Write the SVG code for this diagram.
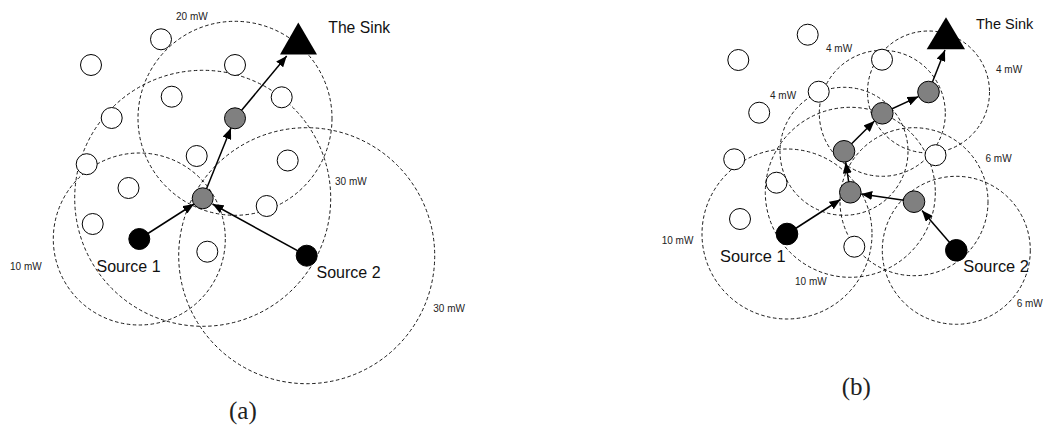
<svg xmlns="http://www.w3.org/2000/svg" width="1043" height="430" viewBox="0 0 1043 430">
<defs>
<marker id="arr" viewBox="0 0 11 9" refX="11" refY="4.5" markerWidth="11" markerHeight="9" markerUnits="userSpaceOnUse" orient="auto">
<path d="M0,0 L11,4.5 L0,9 z" fill="#000"/>
</marker>
</defs>
<style>
.range{fill:none;stroke:#000;stroke-width:0.9;stroke-dasharray:3.5 2.5}
.open{fill:#fff;stroke:#000;stroke-width:1}
.relay{fill:#808080;stroke:#000;stroke-width:1}
.src{fill:#000;stroke:#000;stroke-width:1}
.sink{fill:#000}
.conn{stroke:#000;stroke-width:1.5;fill:none;marker-end:url(#arr)}
.big{font-family:"Liberation Sans",Arial,sans-serif;fill:#111}
.small{font-family:"Liberation Sans",Arial,sans-serif;font-size:10px;fill:#222}
.cap{font-family:"Liberation Serif","Times New Roman",serif;font-size:25px;fill:#222}
</style>
<rect width="1043" height="430" fill="#fff"/>

<!-- Panel (a) ranges -->
<g id="ranges-a">
<circle class="range" cx="139.3" cy="239" r="86"/>
<circle class="range" cx="235" cy="118.3" r="97"/>
<circle class="range" cx="202.7" cy="198.3" r="128"/>
<circle class="range" cx="306.7" cy="255.7" r="128"/>
</g>
<!-- Panel (b) ranges -->
<g id="ranges-b">
<circle class="range" cx="787" cy="234" r="85"/>
<circle class="range" cx="850.3" cy="192.3" r="85"/>
<circle class="range" cx="914" cy="201.7" r="74"/>
<circle class="range" cx="956.3" cy="250.3" r="74"/>
<circle class="range" cx="844" cy="151.3" r="64"/>
<circle class="range" cx="882.3" cy="113.3" r="63"/>
<circle class="range" cx="928.5" cy="92" r="61"/>
</g>

<g id="connectors">
<line class="conn" x1="139.3" y1="239" x2="194" y2="204"/>
<line class="conn" x1="306.7" y1="255.7" x2="212.5" y2="204"/>
<line class="conn" x1="202.7" y1="198.3" x2="231" y2="128"/>
<line class="conn" x1="235" y1="118.3" x2="286.7" y2="56"/>
<line class="conn" x1="787" y1="234" x2="840.5" y2="199.5"/>
<line class="conn" x1="956.3" y1="250.3" x2="922" y2="210.5"/>
<line class="conn" x1="914" y1="201.7" x2="861.2" y2="193.9"/>
<line class="conn" x1="850.3" y1="192.3" x2="845.7" y2="162.2"/>
<line class="conn" x1="844" y1="151.3" x2="874.5" y2="121"/>
<line class="conn" x1="882.3" y1="113.3" x2="918.5" y2="96.6"/>
<line class="conn" x1="928.5" y1="92" x2="945" y2="50"/>
</g>

<!-- Panel (a) nodes -->
<g id="a-open-nodes">
<circle class="open" cx="161" cy="39.3" r="10.5"/>
<circle class="open" cx="91" cy="65" r="10.5"/>
<circle class="open" cx="235" cy="65" r="10.5"/>
<circle class="open" cx="171.7" cy="96.7" r="10.5"/>
<circle class="open" cx="111.7" cy="118" r="10.5"/>
<circle class="open" cx="86.7" cy="164.2" r="10.5"/>
<circle class="open" cx="196.7" cy="156" r="10.5"/>
<circle class="open" cx="128.5" cy="188" r="10.5"/>
<circle class="open" cx="281.7" cy="97.3" r="10.5"/>
<circle class="open" cx="287.7" cy="160.5" r="10.5"/>
<circle class="open" cx="266.7" cy="206" r="10.5"/>
<circle class="open" cx="92.7" cy="224" r="10.5"/>
<circle class="open" cx="207.3" cy="251.7" r="10.5"/>
</g>
<g id="a-relay1"><circle class="relay" cx="202.7" cy="198.3" r="10.5"/></g>
<g id="a-relay2"><circle class="relay" cx="235" cy="118.3" r="10.5"/></g>
<g id="a-source1"><circle class="src" cx="139.3" cy="239" r="10.5"/><text class="big" x="96.5" y="271.5" font-size="16">Source 1</text></g>
<g id="a-source2"><circle class="src" cx="306.7" cy="255.7" r="10.5"/><text class="big" x="316.5" y="277.5" font-size="16">Source 2</text></g>
<g id="a-sink"><polygon class="sink" points="298.3,22.5 280,54.5 317,54.5"/><text class="big" x="328.3" y="33.3" font-size="15.7">The Sink</text></g>
<g id="a-labels">
<text class="small" x="176" y="20.3">20 mW</text>
<text class="small" x="335" y="185">30 mW</text>
<text class="small" x="433.3" y="311.7">30 mW</text>
<text class="small" x="10" y="269.5">10 mW</text>
<text class="cap" x="229" y="419">(a)</text>
</g>

<!-- Panel (b) nodes -->
<g id="b-open-nodes">
<circle class="open" cx="807.7" cy="34.7" r="10.5"/>
<circle class="open" cx="738.3" cy="60" r="10.5"/>
<circle class="open" cx="882" cy="59.7" r="10.5"/>
<circle class="open" cx="818.7" cy="91.7" r="10.5"/>
<circle class="open" cx="759.2" cy="112.7" r="10.5"/>
<circle class="open" cx="734.2" cy="159.3" r="10.5"/>
<circle class="open" cx="935.5" cy="155.2" r="10.5"/>
<circle class="open" cx="776.5" cy="182.7" r="10.5"/>
<circle class="open" cx="740" cy="219" r="10.5"/>
<circle class="open" cx="854.3" cy="246.7" r="10.5"/>
</g>
<g id="b-relay1"><circle class="relay" cx="928.5" cy="92" r="10.8"/></g>
<g id="b-relay2"><circle class="relay" cx="882.3" cy="113.3" r="10.8"/></g>
<g id="b-relay3"><circle class="relay" cx="844" cy="151.3" r="10.8"/></g>
<g id="b-relay4"><circle class="relay" cx="850.3" cy="192.3" r="10.8"/></g>
<g id="b-relay5"><circle class="relay" cx="914" cy="201.7" r="10.8"/></g>
<g id="b-source1"><circle class="src" cx="787" cy="234" r="10.8"/><text class="big" x="720" y="261.7" font-size="16.4">Source 1</text></g>
<g id="b-source2"><circle class="src" cx="956.3" cy="250.3" r="10.8"/><text class="big" x="963.3" y="271.7" font-size="16.4">Source 2</text></g>
<g id="b-sink"><polygon class="sink" points="946,17.3 926.7,49.3 965,49.3"/><text class="big" x="976" y="28.5" font-size="14.5">The Sink</text></g>
<g id="b-labels">
<text class="small" x="826" y="52.3" font-size="9.4">4 mW</text>
<text class="small" x="770" y="99" font-size="9.4">4 mW</text>
<text class="small" x="996" y="73" font-size="9.4">4 mW</text>
<text class="small" x="985.5" y="162">6 mW</text>
<text class="small" x="1016.7" y="306.7">6 mW</text>
<text class="small" x="661.7" y="243.5">10 mW</text>
<text class="small" x="795" y="285">10 mW</text>
<text class="cap" x="841.7" y="395">(b)</text>
</g>
</svg>
